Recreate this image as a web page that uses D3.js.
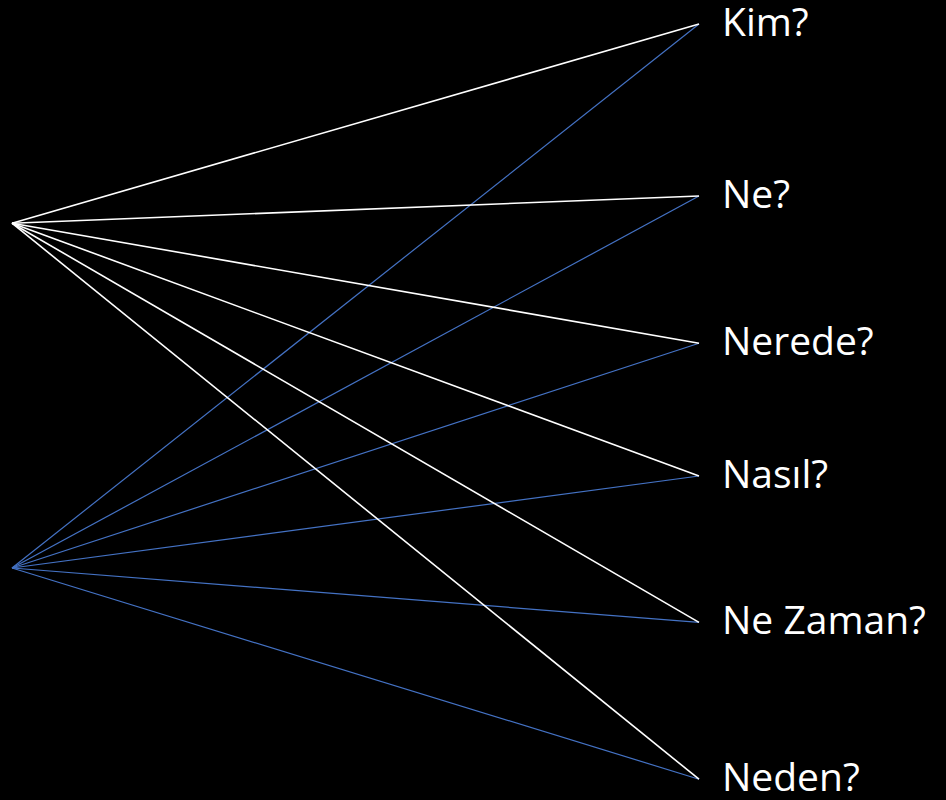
<!DOCTYPE html>
<html>
<head>
<meta charset="utf-8">
<script src="https://cdn.jsdelivr.net/npm/d3@7"></script>
<style>
  html, body { margin: 0; padding: 0; background: #000; }
  svg { display: block; }
</style>
</head>
<body>
<svg id="chart"></svg>
<script>
/* ---- data ---- */
const QUESTIONS   = ['Kim?', 'Ne?', 'Nerede?', 'Nasıl?', 'Ne Zaman?', 'Neden?'];
const QUESTION_Y  = [3.0, 24.5, 42.9, 59.5, 77.8, 97.4];   // vertical position, % of height
const SOURCES     = ['white', 'blue'];
const SOURCE_Y    = [27.9, 71.0];
const SOURCE_COLS = { white: '#ffffff', blue: '#4472c4' };
const SOURCE_W    = { white: 1.6, blue: 1.2 };

const W = 946, H = 800;
const svg = d3.select('#chart').attr('width', W).attr('height', H);
svg.append('rect').attr('width', W).attr('height', H).attr('fill', '#000');

const x = d3.scaleLinear().domain([0, 1]).range([12, 699]);
const y = d3.scaleLinear().domain([0, 100]).range([0, H]);

// draw blue first so white sits on top
const order = ['blue', 'white'];
order.forEach(src => {
  const si = SOURCES.indexOf(src);
  const g = svg.append('g').attr('class', 'src-' + src);
  g.selectAll('line')
    .data(QUESTION_Y)
    .join('line')
    .attr('x1', x(0)).attr('y1', y(SOURCE_Y[si]))
    .attr('x2', x(1)).attr('y2', d => y(d))
    .attr('stroke', SOURCE_COLS[src])
    .attr('stroke-width', SOURCE_W[src]);
});

svg.append('g').selectAll('text')
  .data(QUESTIONS)
  .join('text')
  .attr('x', x(1) + 23)
  .attr('y', (d, i) => y(QUESTION_Y[i]) + 12)
  .attr('fill', '#fff')
  .attr('font-family', '"Open Sans", "Noto Sans", sans-serif')
  .attr('font-size', '39px')
  .text(d => d);
</script>
</body>
</html>
